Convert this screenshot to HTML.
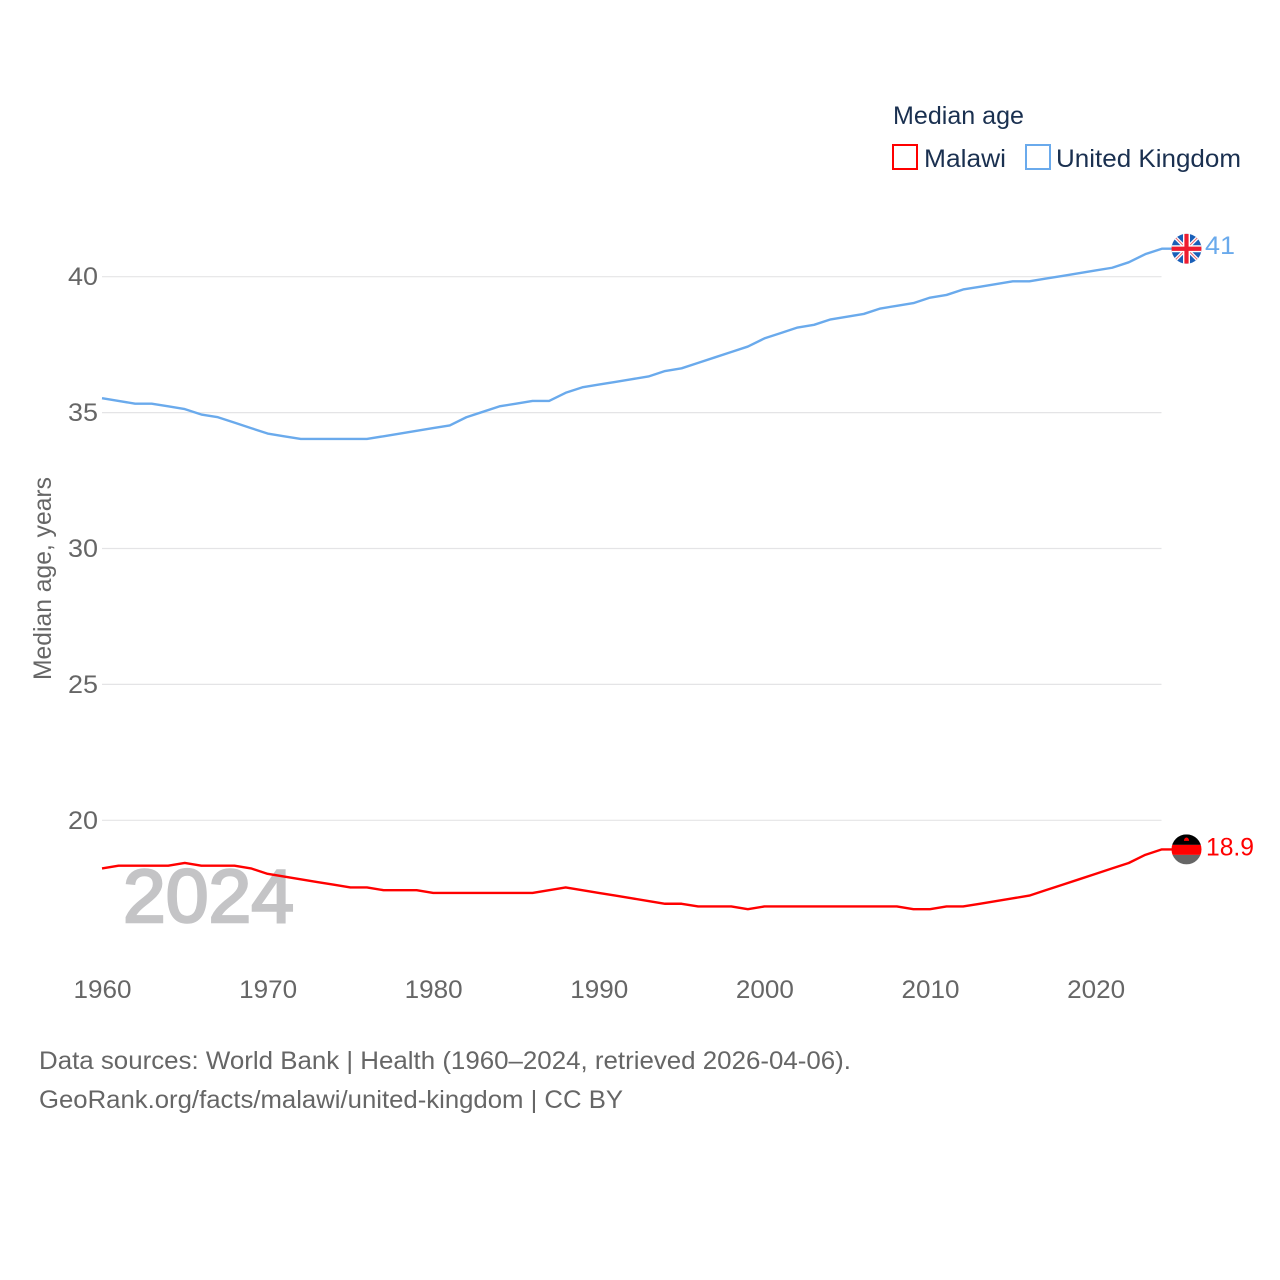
<!DOCTYPE html>
<html lang="en">
<head>
<meta charset="utf-8">
<title>Median age: Malawi and United Kingdom</title>
<style>
html,body{margin:0;padding:0;background:#fff;width:1280px;height:1280px;overflow:hidden}
svg{display:block}
text{font-family:"Liberation Sans",sans-serif;font-size:25px}
.tick{fill:#666}
.legend{fill:#1a3050}
</style>
</head>
<body>
<svg id="chart" width="1280" height="1280" viewBox="0 0 1280 1280" xmlns="http://www.w3.org/2000/svg">
  <defs>
    <clipPath id="flag-clip-uk"><circle cx="0" cy="0" r="15"></circle></clipPath>
    <clipPath id="flag-clip-mw"><circle cx="0" cy="0" r="15"></circle></clipPath>
  </defs>
  <g id="grid"></g>
  <g id="yticks"></g>
  <g id="xticks"></g>
  <text class="tick" transform="translate(51,680) rotate(-90)" textLength="203" lengthAdjust="spacingAndGlyphs">Median age, years</text>
  <text x="123" y="922" style="font-size:75px;fill:#c4c4c6;stroke:#c4c4c6;stroke-width:2.5" textLength="171" lengthAdjust="spacingAndGlyphs">2024</text>
  <g id="series"></g>
  <g id="ends"></g>

  <text class="legend" x="893" y="124" textLength="131" lengthAdjust="spacingAndGlyphs">Median age</text>
  <g>
    <rect x="893" y="145" width="24" height="24" fill="none" stroke="#f00" stroke-width="2"></rect>
    <text class="legend" x="924" y="167" textLength="82" lengthAdjust="spacingAndGlyphs">Malawi</text>
  </g>
  <g>
    <rect x="1026" y="145" width="24" height="24" fill="none" stroke="#6aaaec" stroke-width="2"></rect>
    <text class="legend" x="1056" y="167" textLength="185" lengthAdjust="spacingAndGlyphs">United Kingdom</text>
  </g>

  <text class="tick" x="39" y="1069" textLength="812" lengthAdjust="spacingAndGlyphs">Data sources: World Bank | Health (1960–2024, retrieved 2026-04-06).</text>
  <a><text class="tick" x="39" y="1108" textLength="584" lengthAdjust="spacingAndGlyphs">GeoRank.org/facts/malawi/united-kingdom | CC BY</text></a>
</svg>
<script>
const firstYear = 1960;
const xTickYears = [1960, 1970, 1980, 1990, 2000, 2010, 2020];
const yTickValues = [20, 25, 30, 35, 40];
const ukValues = [35.5,35.4,35.3,35.3,35.2,35.1,34.9,34.8,34.6,34.4,34.2,34.1,34.0,34.0,34.0,34.0,34.0,34.1,34.2,34.3,34.4,34.5,34.8,35.0,35.2,35.3,35.4,35.4,35.7,35.9,36.0,36.1,36.2,36.3,36.5,36.6,36.8,37.0,37.2,37.4,37.7,37.9,38.1,38.2,38.4,38.5,38.6,38.8,38.9,39.0,39.2,39.3,39.5,39.6,39.7,39.8,39.8,39.9,40.0,40.1,40.2,40.3,40.5,40.8,41.0];
const malawiValues = [18.2,18.3,18.3,18.3,18.3,18.4,18.3,18.3,18.3,18.2,18.0,17.9,17.8,17.7,17.6,17.5,17.5,17.4,17.4,17.4,17.3,17.3,17.3,17.3,17.3,17.3,17.3,17.4,17.5,17.4,17.3,17.2,17.1,17.0,16.9,16.9,16.8,16.8,16.8,16.7,16.8,16.8,16.8,16.8,16.8,16.8,16.8,16.8,16.8,16.7,16.7,16.8,16.8,16.9,17.0,17.1,17.2,17.4,17.6,17.8,18.0,18.2,18.4,18.7,18.9];
const ukLabel = "41";
const malawiLabel = "18.9";

const SVGNS = "http://www.w3.org/2000/svg";
const xScale = year => 102 + (year - 1960) * 16.56;
const yScale = value => 820.3 - (value - 20) * 27.18;
const lineY = value => yScale(value) - 0.8;
const plotRight = 1161.5;

function make(tag, attrs, parent, txt) {
  const el = document.createElementNS(SVGNS, tag);
  for (const k in attrs) el.setAttribute(k, attrs[k]);
  if (txt !== undefined) el.textContent = txt;
  parent.appendChild(el);
  return el;
}

const gridG = document.getElementById('grid');
const yG = document.getElementById('yticks');
const xG = document.getElementById('xticks');
const seriesG = document.getElementById('series');
const endsG = document.getElementById('ends');

yTickValues.forEach(v => {
  const line = make('line', {x1: 102, x2: plotRight, y1: yScale(v), y2: yScale(v), stroke: '#e4e4e6', 'stroke-width': 1.2}, gridG);
  
  
  const label = make('text', {x: 98, y: yScale(v) + 8.5, 'text-anchor': 'end', class: 'tick', textLength: 30, lengthAdjust: 'spacingAndGlyphs'}, yG, String(v));
  
  
});

xTickYears.forEach(y => {
  const label = make('text', {x: xScale(y) + 0.5, y: 998, 'text-anchor': 'middle', class: 'tick', textLength: 58, lengthAdjust: 'spacingAndGlyphs'}, xG, String(y));
  
  
});

function drawLine(values, color, name) {
  const pts = values.map((v, i) => xScale(firstYear + i).toFixed(2) + ',' + lineY(v).toFixed(2));
  const last = values[values.length - 1];
  pts.push('1172,' + lineY(last).toFixed(2));
  const line = make('polyline', {points: pts.join(' '), fill: 'none', stroke: color, 'stroke-width': 2.4, 'stroke-linejoin': 'round'}, seriesG);
  
  
}
drawLine(malawiValues, '#ff0000', 'line-malawi');
drawLine(ukValues, '#6aaaec', 'line-united-kingdom');

function drawUkFlag(cy) {
  const g = make('g', {transform: 'translate(1186.5,' + cy + ')'}, endsG);
  
  
  const inner = make('g', {'clip-path': 'url(#flag-clip-uk)'}, g);
  make('rect', {x: -15, y: -15, width: 30, height: 30, fill: '#1a5fb8'}, inner);
  make('path', {d: 'M-15,-15L15,15M15,-15L-15,15', stroke: '#fff', 'stroke-width': 3.6}, inner);
  make('path', {d: 'M-15,-15L15,15M15,-15L-15,15', stroke: '#e8606a', 'stroke-width': 1}, inner);
  make('path', {d: 'M0,-15V15M-15,0H15', stroke: '#fff', 'stroke-width': 7}, inner);
  make('path', {d: 'M0,-15V15M-15,0H15', stroke: '#ee1c30', 'stroke-width': 4.2}, inner);
}

function drawMalawiFlag(cy) {
  const g = make('g', {transform: 'translate(1186.5,' + cy + ')'}, endsG);
  
  
  const inner = make('g', {'clip-path': 'url(#flag-clip-mw)'}, g);
  make('rect', {x: -15, y: -15, width: 30, height: 10.5, fill: '#000'}, inner);
  make('rect', {x: -15, y: -4.5, width: 30, height: 10, fill: '#ff0000'}, inner);
  make('rect', {x: -15, y: 5.5, width: 30, height: 9.5, fill: '#666'}, inner);
  make('path', {d: 'M-2.6,-8.5A2.6,3.4 0 0 1 2.6,-8.5Z', fill: '#ff0000'}, inner);
}

const ukEndY = lineY(ukValues[ukValues.length - 1]);
const mwEndY = lineY(malawiValues[malawiValues.length - 1]);
drawUkFlag(ukEndY);
drawMalawiFlag(mwEndY);

const ukText = make('text', {x: 1205, y: ukEndY + 5.5, fill: '#6aaaec', textLength: 30, lengthAdjust: 'spacingAndGlyphs'}, endsG, ukLabel);


const mwText = make('text', {x: 1206, y: mwEndY + 6, fill: '#ff0000', textLength: 48, lengthAdjust: 'spacingAndGlyphs'}, endsG, malawiLabel);


</script>
</body>
</html>
